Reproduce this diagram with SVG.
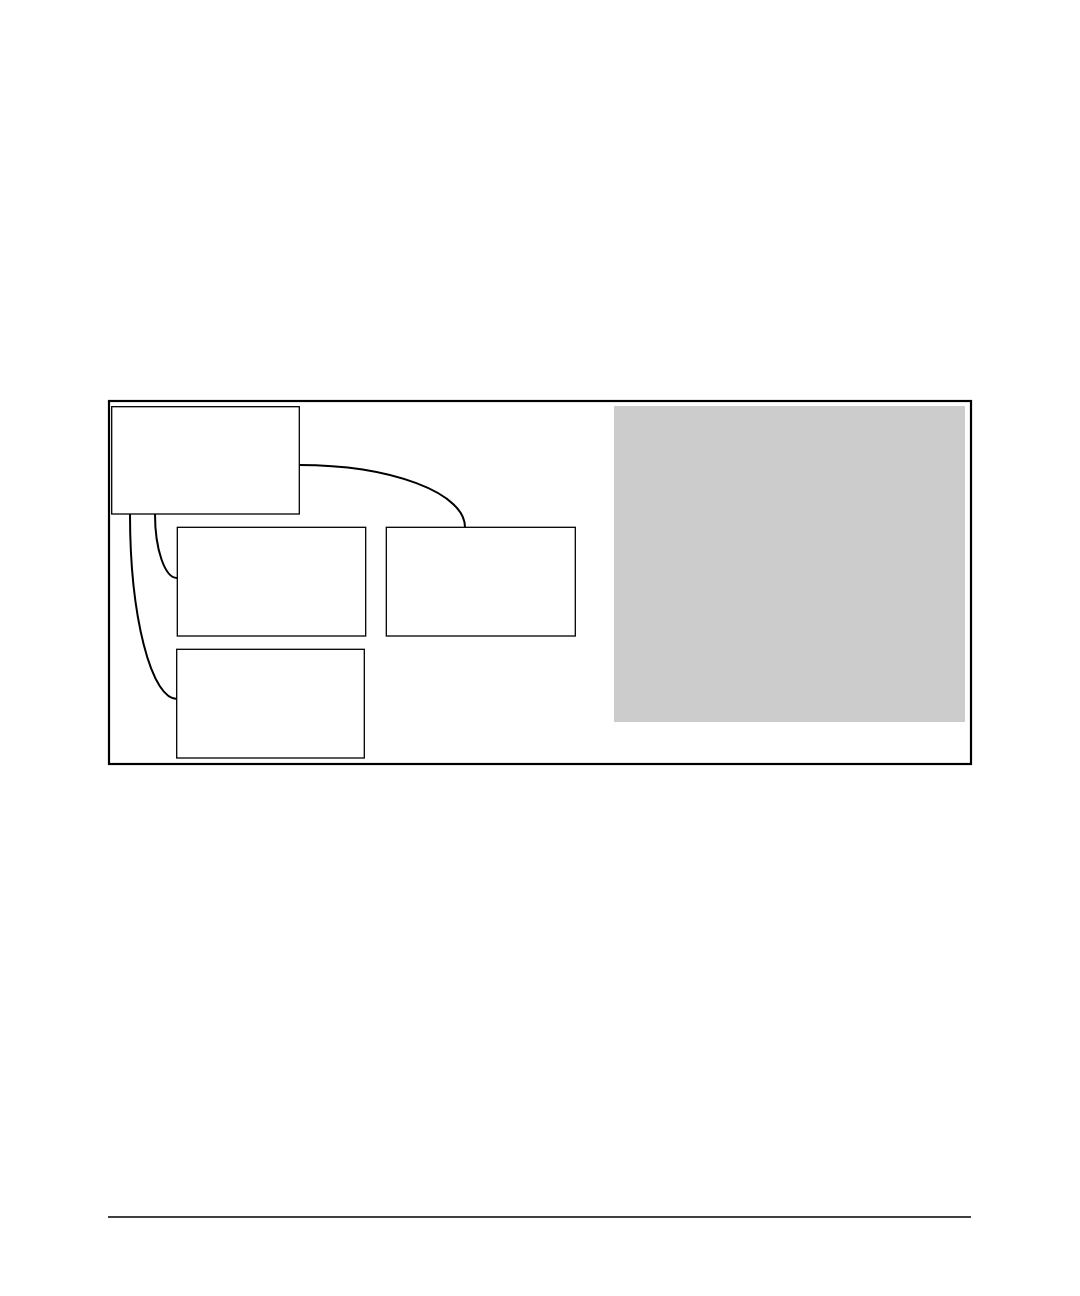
<svg xmlns="http://www.w3.org/2000/svg" width="1080" height="1296" viewBox="0 0 1080 1296">
<style>
.node{fill:#ffffff;stroke:#000000;stroke-width:1.3}
.conn{fill:none;stroke:#000000;stroke-width:2}
</style>
<rect x="0" y="0" width="1080" height="1296" fill="#ffffff"/>
<rect id="frame" x="109" y="401" width="862" height="363" fill="none" stroke="#000000" stroke-width="2.2"/>
<rect id="panel" x="614" y="406" width="351" height="316" fill="#cccccc"/>
<g id="connectors">
<path class="conn" d="M299,465 A166,62 0 0 1 465,527"/>
<path class="conn" d="M155,514 A22,64 0 0 0 177,578"/>
<path class="conn" d="M130,514 A47,185 0 0 0 177,699"/>
</g>
<g id="nodeA"><rect class="node" x="111.7" y="406.7" width="187.6" height="107.3"/></g>
<g id="nodeB"><rect class="node" x="177.3" y="527.3" width="188.4" height="108.7"/></g>
<g id="nodeC"><rect class="node" x="386.3" y="527.3" width="189" height="108.7"/></g>
<g id="nodeD"><rect class="node" x="176.7" y="649.3" width="187.6" height="108.7"/></g>
<line id="footer" x1="108" y1="1217" x2="971" y2="1217" stroke="#000000" stroke-width="1.4"/>
</svg>
